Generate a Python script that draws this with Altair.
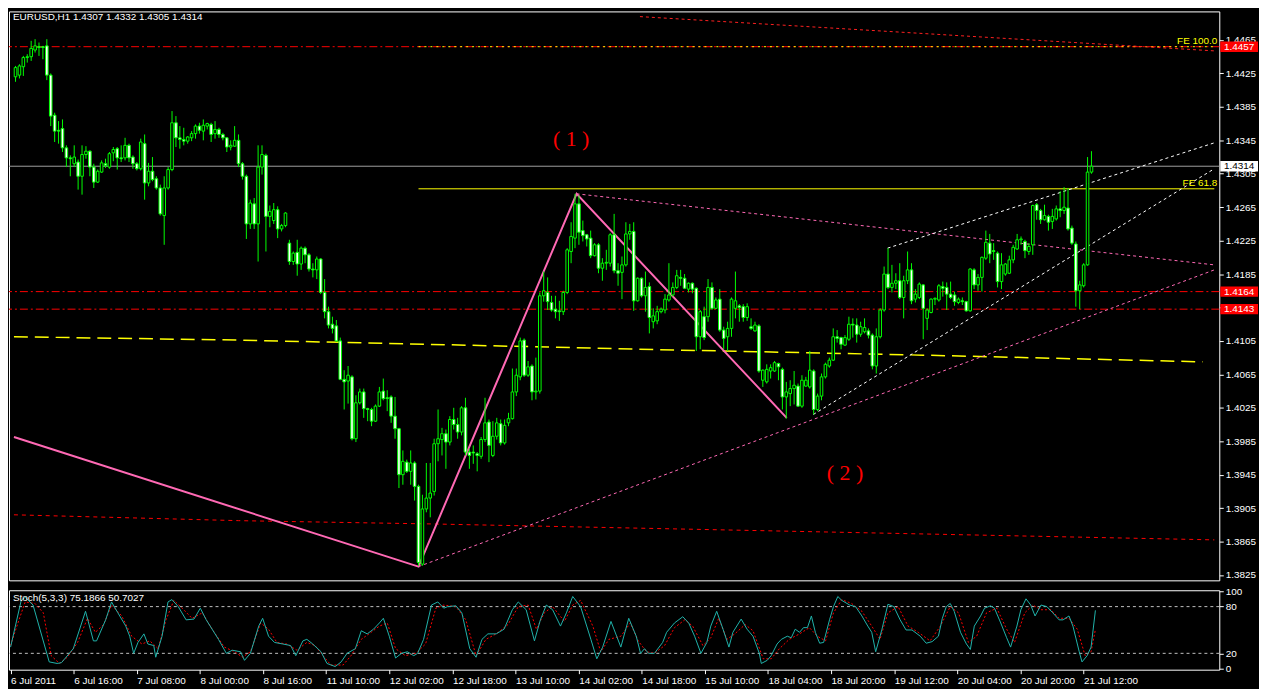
import altair as alt
import pandas as pd

# ---------------- data ----------------
OPEN = [
1.4421,1.4423,1.4433,1.4444,1.4445,1.4453,1.4457,1.4457,1.4458,1.4423,
1.4375,1.4357,1.4359,1.4336,1.4324,1.4317,1.4319,1.4302,1.4328,1.4332,
1.4313,1.4295,1.4307,1.4317,1.4313,1.4330,1.4335,1.4324,1.4324,1.4339,
1.4325,1.4317,1.4311,1.4341,1.4294,1.4308,1.4299,1.4288,1.4255,1.4288,
1.4310,1.4366,1.4348,1.4346,1.4344,1.4348,1.4353,1.4362,1.4356,1.4362,
1.4364,1.4353,1.4358,1.4352,1.4348,1.4337,1.4338,1.4345,1.4317,1.4302,
1.4245,1.4269,1.4245,1.4313,1.4327,1.4254,1.4249,1.4262,1.4239,1.4243,
1.4222,1.4200,1.4211,1.4197,1.4216,1.4208,1.4191,1.4190,1.4203,1.4163,
1.4140,1.4125,1.4123,1.4105,1.4059,1.4057,1.4062,1.3988,1.4031,1.4044,
1.4024,1.4023,1.4009,1.4027,1.4045,1.4037,1.4038,1.4015,1.4000,1.3945,
1.3960,1.3949,1.3959,1.3931,1.3838,1.3904,1.3917,1.3925,1.3982,1.3987,
1.3994,1.3984,1.4011,1.4005,1.3996,1.4025,1.3972,1.3972,1.3970,1.3967,
1.3987,1.4008,1.3968,1.3991,1.4006,1.3983,1.4007,1.4012,1.4044,1.4062,
1.4106,1.4064,1.4075,1.4044,1.4045,1.4159,1.4163,1.4151,1.4143,1.4141,
1.4140,1.4163,1.4212,1.4228,1.4269,1.4237,1.4232,1.4228,1.4207,1.4220,
1.4192,1.4198,1.4198,1.4232,1.4189,1.4187,1.4196,1.4233,1.4236,1.4153,
1.4180,1.4159,1.4170,1.4128,1.4129,1.4140,1.4142,1.4154,1.4160,1.4169,
1.4181,1.4180,1.4167,1.4174,1.4168,1.4110,1.4134,1.4134,1.4169,1.4144,
1.4155,1.4118,1.4110,1.4120,1.4144,1.4147,1.4146,1.4133,1.4122,1.4117,
1.4123,1.4058,1.4056,1.4069,1.4069,1.4078,1.4071,1.4038,1.4042,1.4048,
1.4051,1.4027,1.4051,1.4050,1.4069,1.4023,1.4039,1.4062,1.4075,1.4082,
1.4110,1.4109,1.4100,1.4107,1.4125,1.4124,1.4113,1.4116,1.4117,1.4112,
1.4075,1.4110,1.4142,1.4185,1.4169,1.4174,1.4177,1.4157,1.4177,1.4190,
1.4155,1.4157,1.4172,1.4132,1.4139,1.4155,1.4154,1.4170,1.4169,1.4161,
1.4160,1.4151,1.4153,1.4152,1.4141,1.4190,1.4172,1.4181,1.4204,1.4222,
1.4213,1.4210,1.4176,1.4185,1.4186,1.4202,1.4215,1.4226,1.4224,1.4212,
1.4220,1.4268,1.4261,1.4250,1.4254,1.4248,1.4251,1.4263,1.4261,1.4264,
1.4240,1.4221,1.4165,1.4171,1.4196,1.4307]
HIGH = [
1.4434,1.4436,1.4446,1.4448,1.4464,1.4466,1.4462,1.4458,1.4466,1.4425,
1.4378,1.4368,1.4370,1.4339,1.4327,1.4339,1.4322,1.4339,1.4338,1.4333,
1.4317,1.4310,1.4321,1.4323,1.4331,1.4337,1.4337,1.4339,1.4348,1.4341,
1.4327,1.4319,1.4347,1.4352,1.4318,1.4325,1.4302,1.4292,1.4302,1.4313,
1.4380,1.4374,1.4362,1.4360,1.4350,1.4356,1.4364,1.4366,1.4370,1.4366,
1.4366,1.4368,1.4360,1.4354,1.4349,1.4345,1.4362,1.4352,1.4319,1.4304,
1.4274,1.4276,1.4339,1.4339,1.4329,1.4267,1.4270,1.4266,1.4245,1.4259,
1.4226,1.4212,1.4226,1.4218,1.4218,1.4210,1.4198,1.4206,1.4204,1.4179,
1.4146,1.4134,1.4130,1.4109,1.4070,1.4075,1.4064,1.4040,1.4048,1.4048,
1.4025,1.4025,1.4029,1.4050,1.4060,1.4046,1.4040,1.4038,1.4001,1.3974,
1.3963,1.3974,1.3961,1.3933,1.3921,1.3959,1.3959,1.3988,1.4023,1.4001,
1.3999,1.4015,1.4025,1.4013,1.4027,1.4037,1.3976,1.3980,1.3972,1.3990,
1.4037,1.4011,1.4009,1.4013,1.4011,1.4011,1.4019,1.4072,1.4072,1.4109,
1.4108,1.4081,1.4077,1.4085,1.4163,1.4188,1.4181,1.4159,1.4159,1.4153,
1.4165,1.4216,1.4247,1.4281,1.4279,1.4249,1.4233,1.4237,1.4222,1.4222,
1.4204,1.4214,1.4234,1.4257,1.4198,1.4206,1.4247,1.4245,1.4247,1.4181,
1.4181,1.4188,1.4175,1.4144,1.4147,1.4145,1.4161,1.4198,1.4175,1.4190,
1.4190,1.4185,1.4175,1.4175,1.4169,1.4142,1.4146,1.4179,1.4175,1.4157,
1.4167,1.4122,1.4128,1.4157,1.4188,1.4149,1.4149,1.4150,1.4132,1.4128,
1.4125,1.4071,1.4077,1.4077,1.4081,1.4079,1.4073,1.4056,1.4058,1.4069,
1.4054,1.4064,1.4062,1.4093,1.4071,1.4042,1.4066,1.4079,1.4085,1.4120,
1.4118,1.4110,1.4112,1.4134,1.4132,1.4132,1.4128,1.4132,1.4120,1.4114,
1.4120,1.4144,1.4194,1.4216,1.4196,1.4186,1.4198,1.4183,1.4212,1.4198,
1.4167,1.4175,1.4173,1.4144,1.4156,1.4157,1.4173,1.4176,1.4175,1.4176,
1.4164,1.4157,1.4157,1.4153,1.4192,1.4192,1.4185,1.4206,1.4237,1.4233,
1.4222,1.4212,1.4210,1.4198,1.4207,1.4220,1.4233,1.4230,1.4226,1.4222,
1.4268,1.4270,1.4263,1.4268,1.4256,1.4263,1.4267,1.4284,1.4289,1.4288,
1.4243,1.4224,1.4177,1.4198,1.4325,1.4332]
LOW = [
1.4415,1.4419,1.4422,1.4438,1.4440,1.4450,1.4446,1.4442,1.4417,1.4362,
1.4343,1.4341,1.4331,1.4313,1.4302,1.4313,1.4286,1.4280,1.4323,1.4302,
1.4288,1.4294,1.4306,1.4312,1.4311,1.4320,1.4310,1.4319,1.4321,1.4319,
1.4311,1.4309,1.4309,1.4274,1.4290,1.4296,1.4286,1.4255,1.4220,1.4286,
1.4308,1.4337,1.4335,1.4339,1.4341,1.4344,1.4347,1.4353,1.4345,1.4358,
1.4343,1.4347,1.4348,1.4345,1.4331,1.4333,1.4337,1.4313,1.4298,1.4227,
1.4239,1.4239,1.4200,1.4304,1.4212,1.4241,1.4245,1.4228,1.4236,1.4241,
1.4196,1.4196,1.4183,1.4190,1.4198,1.4188,1.4181,1.4179,1.4161,1.4132,
1.4120,1.4114,1.4104,1.4058,1.4023,1.4030,1.3986,1.3984,1.4029,1.4013,
1.4009,1.4003,1.4008,1.4026,1.4034,1.4021,1.4007,1.3988,1.3929,1.3933,
1.3947,1.3933,1.3914,1.3836,1.3836,1.3900,1.3894,1.3920,1.3961,1.3968,
1.3952,1.3980,1.3999,1.3988,1.3992,1.3968,1.3952,1.3958,1.3949,1.3964,
1.3984,1.3960,1.3966,1.3987,1.3980,1.3981,1.4003,1.4011,1.4039,1.4058,
1.4062,1.4062,1.4034,1.4035,1.4042,1.4152,1.4142,1.4140,1.4132,1.4129,
1.4136,1.4161,1.4198,1.4216,1.4220,1.4224,1.4218,1.4204,1.4206,1.4186,
1.4177,1.4190,1.4194,1.4186,1.4171,1.4155,1.4194,1.4226,1.4141,1.4152,
1.4157,1.4140,1.4114,1.4120,1.4125,1.4138,1.4138,1.4152,1.4158,1.4167,
1.4171,1.4167,1.4163,1.4162,1.4093,1.4095,1.4106,1.4128,1.4142,1.4143,
1.4116,1.4095,1.4093,1.4110,1.4132,1.4128,1.4128,1.4129,1.4118,1.4116,
1.4067,1.4050,1.4054,1.4060,1.4068,1.4058,1.4023,1.4012,1.4027,1.4029,
1.4026,1.4025,1.4050,1.4048,1.4017,1.4021,1.4034,1.4060,1.4073,1.4081,
1.4103,1.4095,1.4099,1.4105,1.4109,1.4103,1.4110,1.4114,1.4108,1.4071,
1.4066,1.4108,1.4140,1.4167,1.4163,1.4167,1.4155,1.4132,1.4173,1.4149,
1.4151,1.4155,1.4107,1.4118,1.4138,1.4148,1.4152,1.4158,1.4142,1.4155,
1.4147,1.4149,1.4148,1.4140,1.4140,1.4167,1.4165,1.4164,1.4202,1.4198,
1.4202,1.4169,1.4167,1.4183,1.4185,1.4198,1.4214,1.4220,1.4204,1.4208,
1.4208,1.4250,1.4245,1.4249,1.4237,1.4239,1.4249,1.4253,1.4257,1.4237,
1.4220,1.4146,1.4143,1.4169,1.4195,1.4305]
CLOSE = [
1.4432,1.4434,1.4444,1.4445,1.4455,1.4458,1.4456,1.4456,1.4423,1.4374,
1.4356,1.4356,1.4336,1.4324,1.4323,1.4325,1.4302,1.4328,1.4332,1.4313,
1.4295,1.4308,1.4318,1.4315,1.4329,1.4334,1.4324,1.4323,1.4339,1.4324,
1.4317,1.4311,1.4343,1.4294,1.4308,1.4298,1.4288,1.4257,1.4288,1.4310,
1.4366,1.4348,1.4346,1.4344,1.4349,1.4353,1.4362,1.4357,1.4363,1.4365,
1.4352,1.4358,1.4352,1.4348,1.4337,1.4339,1.4345,1.4317,1.4302,1.4245,
1.4270,1.4245,1.4313,1.4328,1.4254,1.4260,1.4262,1.4239,1.4243,1.4258,
1.4200,1.4210,1.4197,1.4216,1.4208,1.4191,1.4190,1.4203,1.4163,1.4140,
1.4124,1.4120,1.4105,1.4059,1.4056,1.4064,1.3988,1.4031,1.4044,1.4024,
1.4023,1.4009,1.4027,1.4044,1.4036,1.4036,1.4015,1.4000,1.3945,1.3961,
1.3949,1.3959,1.3931,1.3840,1.3904,1.3917,1.3923,1.3982,1.3988,1.3994,
1.3984,1.4011,1.4005,1.3996,1.4025,1.3972,1.3968,1.3971,1.3968,1.3987,
1.4007,1.3980,1.3991,1.4007,1.3983,1.4004,1.4012,1.4044,1.4064,1.4105,
1.4064,1.4074,1.4044,1.4045,1.4159,1.4165,1.4152,1.4142,1.4140,1.4140,
1.4163,1.4214,1.4230,1.4269,1.4235,1.4231,1.4227,1.4207,1.4220,1.4192,
1.4198,1.4199,1.4232,1.4189,1.4186,1.4196,1.4233,1.4236,1.4153,1.4180,
1.4159,1.4169,1.4133,1.4135,1.4140,1.4143,1.4155,1.4160,1.4169,1.4183,
1.4180,1.4168,1.4174,1.4167,1.4110,1.4140,1.4109,1.4169,1.4144,1.4154,
1.4118,1.4108,1.4120,1.4155,1.4153,1.4145,1.4133,1.4146,1.4120,1.4124,
1.4069,1.4070,1.4071,1.4073,1.4079,1.4074,1.4038,1.4044,1.4048,1.4052,
1.4027,1.4058,1.4058,1.4070,1.4023,1.4039,1.4062,1.4077,1.4082,1.4110,
1.4108,1.4101,1.4109,1.4125,1.4124,1.4113,1.4122,1.4121,1.4112,1.4075,
1.4110,1.4142,1.4185,1.4169,1.4174,1.4177,1.4157,1.4177,1.4190,1.4153,
1.4161,1.4173,1.4144,1.4142,1.4155,1.4156,1.4171,1.4168,1.4161,1.4157,
1.4152,1.4155,1.4152,1.4141,1.4191,1.4172,1.4181,1.4205,1.4223,1.4209,
1.4212,1.4176,1.4196,1.4197,1.4202,1.4217,1.4226,1.4227,1.4213,1.4218,
1.4267,1.4261,1.4250,1.4255,1.4247,1.4254,1.4263,1.4261,1.4265,1.4239,
1.4222,1.4165,1.4172,1.4196,1.4307,1.4314]

TIME_LABELS = ["6 Jul 2011", "6 Jul 16:00", "7 Jul 08:00", "8 Jul 00:00", "8 Jul 16:00",
               "11 Jul 10:00", "12 Jul 02:00", "12 Jul 18:00", "13 Jul 10:00", "14 Jul 02:00",
               "14 Jul 18:00", "15 Jul 10:00", "18 Jul 04:00", "18 Jul 20:00", "19 Jul 12:00",
               "20 Jul 04:00", "20 Jul 20:00", "21 Jul 12:00"]
TIME_TICK_BARS = [0, 16, 32, 48, 64, 80, 96, 112, 128, 144, 160, 176, 192, 208, 224, 240, 256, 272]
PRICE_TICKS = [1.3825, 1.3865, 1.3905, 1.3945, 1.3985, 1.4025, 1.4065, 1.4105, 1.4145,
               1.4185, 1.4225, 1.4265, 1.4305, 1.4345, 1.4385, 1.4425, 1.4465]

# drawn objects (bar index, price)
ZIGZAG_BAR = [-0.4, 103, 143.4, 197.1]
ZIGZAG_PRICE = [1.3990, 1.3835, 1.4281, 1.4013]
PINK_UP_BAR = [103, 306.4]
PINK_UP_PRICE = [1.3835, 1.4190]
PINK_DOWN_BAR = [143.4, 306.4]
PINK_DOWN_PRICE = [1.4281, 1.4196]
WHITE_LOW_BAR = [203.9, 306.4]
WHITE_LOW_PRICE = [1.4017, 1.4311]
WHITE_UP_BAR = [222.9, 306.4]
WHITE_UP_PRICE = [1.4216, 1.4342]
RED_TOP_BAR = [159.6, 306.4]
RED_TOP_PRICE = [1.4493, 1.4452]
MA_YELLOW_BAR = [-0.4, 57, 105, 170, 232, 303.4]
MA_YELLOW_PRICE = [1.4110, 1.4106, 1.4101, 1.4094, 1.4088, 1.4080]
MA_RED_BAR = [-0.4, 57, 107, 306.4]
MA_RED_PRICE = [1.3897, 1.3890, 1.3886, 1.3867]
FE_START_BAR = 103
FE_LEVELS = [1.4457, 1.4287]
FE_NAMES = ["FE 100.0", "FE 61.8"]
HLINES_RED = [1.4457, 1.4164, 1.4143]
BID = 1.4314
WAVE_BAR = [142, 212]
WAVE_PRICE = [1.4347, 1.3947]
WAVE_TEXT = ["( 1 )", "( 2 )"]
HEADER = "EURUSD,H1  1.4307 1.4332 1.4305 1.4314"

STOCH_MAIN = [(0,28),(2.7,88),(3.7,92),(5.7,82),(9.8,9),(11.8,7),(12.9,8),(15.9,26),(19.0,74),(21.0,36),
(21.8,36),(24.1,63),(25.6,86),(27.2,72),(29.2,55),(30.2,42),(31.2,20),(32.3,34),(33.8,45),(34.8,32),
(36.3,30),(36.8,15),(38.4,42),(39.9,86),(40.9,89),(42.5,80),(44.5,63),(46.5,64),(48.1,78),(49.6,63),
(52.7,38),(54.7,20),(56.2,24),(58.3,22),(59.3,11),(60.8,20),(62.9,55),(63.9,65),(65.4,42),(66.9,34),
(69.0,32),(71.0,30),(72.3,17),(74.1,36),(75.1,38),(76.6,32),(78.7,22),(80.2,7),(82.3,3),(83.8,9),
(85.3,20),(87.4,26),(88.9,49),(90.4,45),(92.0,51),(93.5,59),(94.5,65),(96.0,42),(97.6,14),(99.1,20),
(100.6,22),(102.2,17),(103.2,20),(104.7,38),(106.7,82),(108.3,86),(109.8,78),(110.8,80),(112.9,81),(114.4,72),
(116.4,26),(118.0,15),(119.5,38),(121.0,45),(123.1,45),(125.1,51),(127.2,76),(128.7,86),(130.7,76),(132.8,36),
(134.3,63),(135.8,82),(137.4,76),(139.4,55),(140.9,72),(142.5,93),(144.5,80),(147.1,38),(148.6,13),(150.1,28),
(152.2,61),(154.7,28),(156.7,65),(158.6,42),(159.7,20),(160.7,26),(161.7,20),(163.2,20),(165.3,34),(166.3,47),
(168.3,59),(170.4,67),(171.9,59),(173.4,42),(175.0,20),(176.5,34),(177.5,55),(179.0,74),(180.6,51),(182.1,28),
(183.1,47),(185.2,64),(186.7,51),(188.2,42),(189.8,20),(190.3,7),(191.8,11),(192.8,17),(194.3,32),(195.4,38),
(196.9,42),(197.9,40),(198.9,51),(200.0,47),(201.0,53),(202.0,53),(203.0,68),(204.0,47),(205.1,33),(206.1,34),
(207.6,63),(208.6,80),(209.7,93),(210.7,88),(212.7,82),(214.2,80),(215.8,68),(217.3,55),(218.3,47),(219.3,22),
(220.9,51),(222.4,83),(223.9,80),(225.5,63),(227.0,50),(228.5,50),(230.6,42),(232.1,33),(233.6,35),(235.2,42),
(236.2,65),(237.2,80),(238.2,84),(239.2,74),(240.8,47),(242.3,32),(243.3,25),(244.3,55),(245.9,68),(246.9,78),
(248.4,81),(249.4,78),(251.0,59),(252.5,40),(253.5,28),(255.1,55),(256.1,76),(257.4,90),(258.6,82),(259.7,68),
(261.2,82),(262.7,80),(264.2,72),(265.8,63),(266.8,63),(268.3,68),(269.3,55),(270.9,22),(271.6,9),(272.9,17),
(273.9,28),(275.0,75.19)]
STOCH_SIGNAL = [(0,30),(1.6,55),(3.7,86),(6.2,84),(8.3,72),(10.3,17),(12.4,7),(14.4,15),(17.0,34),(19.5,65),
(21.5,47),(23.6,57),(25.6,82),(28.2,68),(30.7,42),(33.3,32),(35.3,36),(37.4,26),(39.4,63),(41.4,88),
(43.5,78),(46.0,65),(48.6,72),(51.1,51),(54.2,28),(56.8,22),(58.8,15),(60.8,22),(63.4,59),(65.4,51),
(67.5,34),(70.0,32),(72.6,24),(75.1,34),(77.2,30),(79.2,17),(81.2,5),(84.3,5),(86.3,17),(88.9,38),
(91.4,47),(93.5,55),(95.5,59),(97.6,26),(100.1,17),(102.7,20),(105.2,32),(107.8,78),(109.8,82),(112.9,80),
(115.4,63),(118.0,17),(120.5,38),(123.1,45),(126.1,57),(128.7,80),(131.2,82),(133.3,51),(135.3,72),(137.4,80),
(140.4,61),(142.5,82),(144.5,88),(147.6,55),(149.6,22),(151.7,38),(154.7,42),(157.1,59),(159.1,36),(161.2,22),
(163.2,20),(165.8,30),(168.3,53),(170.9,63),(172.9,55),(175.5,30),(177.5,40),(179.5,65),(181.6,38),(183.6,45),
(186.2,57),(188.2,49),(190.8,13),(192.8,13),(194.9,26),(197.4,38),(200.0,45),(202.5,53),(204.5,42),(206.6,36),
(208.6,72),(210.7,89),(213.2,84),(215.8,74),(218.3,55),(220.4,38),(222.4,72),(225.0,80),(227.5,55),(230.1,47),
(233.1,36),(235.7,55),(238.2,80),(240.3,72),(242.8,34),(244.9,42),(247.4,72),(250.0,78),(252.5,51),(254.5,34),
(257.1,72),(259.1,82),(261.2,76),(263.7,76),(265.8,65),(268.3,65),(270.4,51),(272.4,17),(273.9,22),(275.0,50.70)]
STOCH_LEVELS = [20, 80]
STOCH_TICKS = [0, 20, 80, 100]
STOCH_HEADER = "Stoch(5,3,3) 75.1866 50.7027"

assert len(OPEN) == len(HIGH) == len(LOW) == len(CLOSE) == 276

# ---------------- layout / styles ----------------
W, H_MAIN, H_STO = 1219, 573, 80
X_DOM = [-0.4, 306.4]
Y_DOM = [1.38186, 1.44992]
FONT = "Liberation Sans"
LIME = "#00ff00"
PINK = "#ff69b4"

xs = alt.Scale(domain=X_DOM, nice=False, zero=False)
ys = alt.Scale(domain=Y_DOM, nice=False, zero=False)
yaxis = alt.Axis(orient="right", values=PRICE_TICKS, format=".4f", title=None, tickSize=4,
                 labelPadding=2, grid=False, domain=False, labelFlush=False, labelOverlap=False)


def Xm(f):
    return alt.X(f, type="quantitative", scale=xs, axis=None)


def Ym(f):
    return alt.Y(f, type="quantitative", scale=ys, axis=yaxis)


def line(bx, py, color, dash=None, width=1.0):
    df = pd.DataFrame({"x": bx, "y": py, "k": list(range(len(bx)))})
    kw = dict(color=color, strokeWidth=width, clip=True)
    if dash:
        kw["strokeDash"] = dash
    return alt.Chart(df).mark_line(**kw).encode(x=Xm("x"), y=Ym("y"), order="k:Q")


cdf = pd.DataFrame({"i": list(range(len(OPEN))), "o": OPEN, "h": HIGH, "l": LOW, "c": CLOSE})

wicks = alt.Chart(cdf).mark_rule(color=LIME, strokeWidth=1).encode(
    x=Xm("i"), y=Ym("l"), y2="h")
bodies = alt.Chart(cdf).mark_bar(size=2.6, stroke=LIME, strokeWidth=1).encode(
    x=Xm("i"), y=Ym("o"), y2="c",
    fill=alt.condition("datum.c < datum.o", alt.value("white"), alt.value("black")))

red_h = alt.Chart(pd.DataFrame({"y": HLINES_RED})).mark_rule(
    color="#ff0000", strokeWidth=1, strokeDash=[8, 3, 2, 3]).encode(y=Ym("y"))
bid_h = alt.Chart(pd.DataFrame({"y": [BID]})).mark_rule(
    color="#a0a0a0", strokeWidth=1).encode(y=Ym("y"))

fe_df = pd.DataFrame({"x": [FE_START_BAR] * 2, "x2": [X_DOM[1]] * 2, "y": FE_LEVELS, "t": FE_NAMES,
                      "dash": ["d", "s"]})
fe100 = alt.Chart(fe_df[fe_df.dash == "d"]).mark_rule(
    color="#ffff00", strokeWidth=1, strokeDash=[2, 4]).encode(x=Xm("x"), x2="x2", y=Ym("y"))
fe618 = alt.Chart(fe_df[fe_df.dash == "s"]).mark_rule(
    color="#ffff00", strokeWidth=1).encode(x=Xm("x"), x2="x2", y=Ym("y"))
fe_txt = alt.Chart(fe_df).mark_text(
    align="right", baseline="bottom", dy=-1, color="#ffff00", font=FONT, fontSize=10).encode(
    x=alt.value(W - 2), y=Ym("y"), text="t:N")

ma_y = line(MA_YELLOW_BAR, MA_YELLOW_PRICE, "#ffff00", [14, 7], 1.5)
ma_r = line(MA_RED_BAR, MA_RED_PRICE, "#ff0000", [4, 4], 1)
red_top = line(RED_TOP_BAR, RED_TOP_PRICE, "#ff2020", [3, 3], 1)
zig = line(ZIGZAG_BAR, ZIGZAG_PRICE, PINK, None, 2)
p_up = line(PINK_UP_BAR, PINK_UP_PRICE, PINK, [3, 3], 1)
p_dn = line(PINK_DOWN_BAR, PINK_DOWN_PRICE, PINK, [3, 3], 1)
w_lo = line(WHITE_LOW_BAR, WHITE_LOW_PRICE, "#ffffff", [3, 3], 1)
w_up = line(WHITE_UP_BAR, WHITE_UP_PRICE, "#ffffff", [3, 3], 1)

waves = alt.Chart(pd.DataFrame({"x": WAVE_BAR, "y": WAVE_PRICE, "t": WAVE_TEXT})).mark_text(
    color="#ff0000", font="Liberation Serif", fontSize=22).encode(x=Xm("x"), y=Ym("y"), text="t:N")

header = alt.Chart(pd.DataFrame({"t": [HEADER]})).mark_text(
    align="left", baseline="middle", color="white", font=FONT, fontSize=10).encode(
    x=alt.value(4), y=alt.value(6), text="t:N")

box_df = pd.DataFrame({"p": [1.4457, 1.4164, 1.4143, BID],
                       "bg": ["#ff0000", "#ff0000", "#ff0000", "#ffffff"],
                       "fg": ["#ffffff", "#ffffff", "#ffffff", "#000000"]})
box_df["t"] = [f"{v:.4f}" for v in box_df["p"]]
boxes = alt.Chart(box_df).transform_calculate(
    lo="datum.p - 0.00062", hi="datum.p + 0.00062").mark_rect().encode(
    x=alt.value(W + 1), x2=alt.value(W + 39), y=Ym("lo"), y2="hi:Q",
    fill=alt.Fill("bg:N", scale=None))
box_txt = alt.Chart(box_df).mark_text(
    align="center", baseline="middle", font=FONT, fontSize=10).encode(
    x=alt.value(W + 20), y=Ym("p"), text="t:N", color=alt.Color("fg:N", scale=None))

main = alt.layer(
    ma_r, ma_y, red_h, bid_h, fe100, fe618, red_top, p_up, p_dn, w_lo, w_up, zig,
    wicks, bodies, fe_txt, waves, header, boxes, box_txt
).properties(width=W, height=H_MAIN)

# ---------------- stochastic panel ----------------
s_ys = alt.Scale(domain=[-1, 101], nice=False, zero=False)
s_yaxis = alt.Axis(orient="right", values=STOCH_TICKS, title=None, tickSize=4, labelPadding=2,
                   grid=False, domain=False, labelFlush=False, labelOverlap=False)
label_arr = "[" + ",".join("'" + s + "'" for s in TIME_LABELS) + "]"
s_xaxis = alt.Axis(values=TIME_TICK_BARS, labelExpr=label_arr + "[round(datum.value / 16)]",
                   labelAlign="left", labelPadding=2, tickSize=4, title=None, grid=False,
                   domain=False, labelOverlap=False, labelFlush=False)


def Xs(f):
    return alt.X(f, type="quantitative", scale=xs, axis=s_xaxis)


def Ys(f):
    return alt.Y(f, type="quantitative", scale=s_ys, axis=s_yaxis)


k_df = pd.DataFrame({"x": [p[0] for p in STOCH_MAIN], "v": [p[1] for p in STOCH_MAIN],
                     "k": list(range(len(STOCH_MAIN)))})
d_df = pd.DataFrame({"x": [p[0] for p in STOCH_SIGNAL], "v": [p[1] for p in STOCH_SIGNAL],
                     "k": list(range(len(STOCH_SIGNAL)))})
lv = alt.Chart(pd.DataFrame({"y": STOCH_LEVELS})).mark_rule(
    color="#c0c0c0", strokeDash=[3, 3], strokeWidth=1).encode(y=Ys("y"))
d_line = alt.Chart(d_df).mark_line(color="#ff0000", strokeWidth=1, strokeDash=[2, 2], clip=True).encode(
    x=Xs("x"), y=Ys("v"), order="k:Q")
k_line = alt.Chart(k_df).mark_line(color="#20b2aa", strokeWidth=1, clip=True).encode(
    x=Xs("x"), y=Ys("v"), order="k:Q")
s_head = alt.Chart(pd.DataFrame({"t": [STOCH_HEADER]})).mark_text(
    align="left", baseline="middle", color="white", font=FONT, fontSize=10).encode(
    x=alt.value(4), y=alt.value(8), text="t:N")

sto = alt.layer(lv, d_line, k_line, s_head).properties(width=W, height=H_STO)

chart = alt.vconcat(main, sto, spacing=4).properties(
    background="black", padding={"left": 0, "top": 0, "right": 0, "bottom": 0}
).configure_view(stroke="white", strokeWidth=1, fill="black").configure_axis(
    labelFont=FONT, labelFontSize=10, labelColor="white", tickColor="white", domainColor="white"
)

chart.save("out.html", embed_options={"renderer": "svg", "actions": False})
